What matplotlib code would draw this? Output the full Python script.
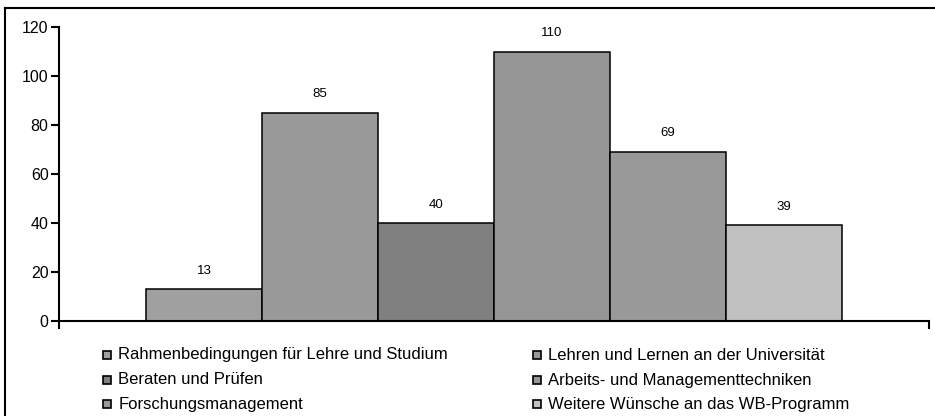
import numpy as np
import matplotlib
matplotlib.use("Agg")
import matplotlib.pyplot as plt
from matplotlib.patches import Rectangle
from matplotlib.lines import Line2D

plt.rcParams['font.family'] = ['Liberation Sans', 'DejaVu Sans']

# Data
series = ["Rahmenbedingungen für Lehre und Studium",
          "Lehren und Lernen an der Universität",
          "Beraten und Prüfen",
          "Arbeits- und Managementtechniken",
          "Forschungsmanagement",
          "Weitere Wünsche an das WB-Programm"]
values = [13, 85, 40, 110, 69, 39]
colors = ["#a0a0a0", "#999999", "#808080", "#969696", "#999999", "#c0c0c0"]
yticks = [0, 20, 40, 60, 80, 100, 120]

W, H = 935, 416
fig = plt.figure(figsize=(W / 100, H / 100), dpi=100)

# axes placement in pixels
x0, x1 = 59, 929
ytop, ybot = 27, 321
ax = fig.add_axes([x0 / W, 1 - ybot / H, (x1 - x0) / W, (ybot - ytop) / H])

x = np.arange(len(values))
bars = ax.bar(x, values, width=1.0, align="edge", color=colors,
              edgecolor="black", linewidth=1.1, zorder=2)
for xi, v in zip(x, values):
    ax.annotate(str(v), (xi + 0.5, v), xytext=(0, 9), textcoords="offset points",
                ha="center", va="bottom", fontsize=9.5)

ax.set_xlim(-0.75, len(values) + 0.75)
ax.set_ylim(0, 120)
ax.set_yticks(yticks)
ax.set_xticks([-0.75, len(values) + 0.75])
ax.set_xticklabels([])
ax.tick_params(axis="y", direction="out", length=6, width=1.5, labelsize=11.5, pad=1.5)
ax.tick_params(axis="x", direction="out", length=6, width=1.5)
for s in ["top", "right"]:
    ax.spines[s].set_visible(False)
for s in ["left", "bottom"]:
    ax.spines[s].set_linewidth(1.5)
ax.patch.set_alpha(0)

# legend, drawn by hand in two columns
col_x = [107, 537]
row_y = [355, 380, 404]
for i, (name, c) in enumerate(zip(series, colors)):
    cx = col_x[i % 2]
    cy = row_y[i // 2]
    sq = 8
    fig.add_artist(Rectangle(((cx - sq / 2) / W, 1 - (cy + sq / 2) / H), sq / W, sq / H,
                             transform=fig.transFigure, facecolor=c,
                             edgecolor="black", linewidth=1.2))
    fig.text((cx + 11.5) / W, 1 - cy / H, name, fontsize=12, va="center", ha="left")

# chart frame (left and top edges)
fig.add_artist(Line2D([5 / W, 5 / W], [0, 1 - 8 / H], color="black", linewidth=1.5,
                      transform=fig.transFigure))
fig.add_artist(Line2D([5 / W, 1], [1 - 8 / H, 1 - 8 / H], color="black", linewidth=1.5,
                      transform=fig.transFigure))

fig.savefig("out.png", dpi=100)
